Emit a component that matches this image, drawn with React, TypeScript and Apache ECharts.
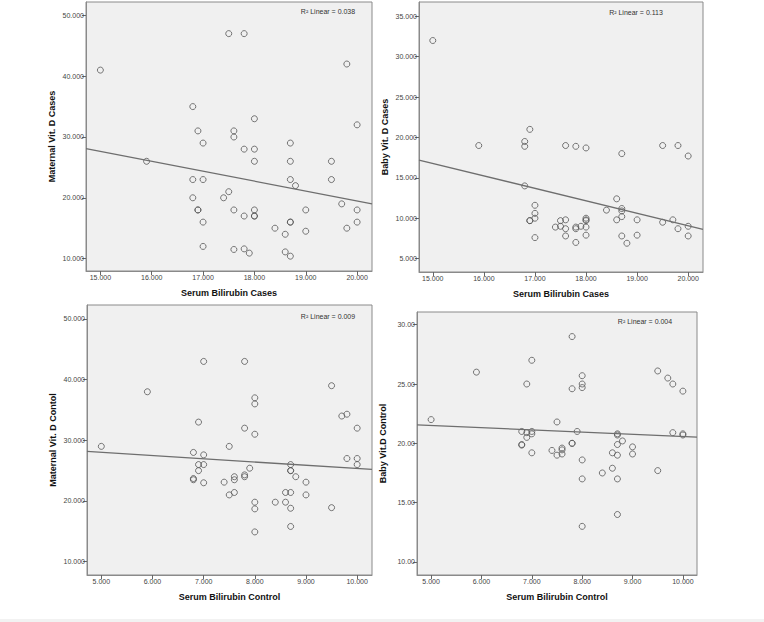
import React, { useEffect, useRef } from "react";
import * as echarts from "echarts";

// ---- Data ----
const maternalCases: [number, number][] = [
  [15, 41], [15.9, 26], [17.5, 47], [17.8, 47], [19.8, 42], [20, 32], [16.8, 35], [16.9, 31], [17, 29],
  [17.6, 31], [17.6, 30], [17.8, 28], [18, 33], [18, 28], [18, 26], [18.7, 29], [18.7, 26], [18.7, 23],
  [18.8, 22], [19.5, 26], [19.5, 23], [16.8, 23], [17, 23], [16.8, 20], [16.9, 18], [16.9, 18], [17, 16],
  [17, 12], [17.5, 21], [17.4, 20], [17.6, 18], [17.8, 17], [18, 18], [18, 17], [18, 17], [17.6, 11.5],
  [17.8, 11.6], [17.9, 10.9], [18.4, 15], [18.6, 14], [18.6, 11.1], [18.7, 10.4], [18.7, 16], [18.7, 16],
  [19, 18], [19, 14.5], [19.7, 19], [20, 18], [20, 16], [19.8, 15],
];
const babyCases: [number, number][] = [
  [15, 32], [15.9, 19], [16.8, 19.5], [16.8, 18.9], [16.9, 21], [16.8, 14], [16.9, 9.7], [16.9, 9.7],
  [17, 11.6], [17, 10.6], [17, 10], [17, 7.6], [17.4, 8.9], [17.5, 9.7], [17.5, 9], [17.6, 9.8], [17.6, 8.7],
  [17.6, 7.8], [17.6, 19], [17.8, 18.9], [17.8, 8.9], [17.8, 8.7], [17.8, 7], [17.9, 9], [18, 18.7], [18, 10],
  [18, 9.8], [18, 9.7], [18, 8.9], [18, 7.9], [18.4, 11], [18.6, 12.4], [18.6, 9.8], [18.7, 18], [18.7, 11.2],
  [18.7, 10.9], [18.7, 10.2], [18.7, 7.8], [18.8, 6.9], [19, 9.8], [19, 7.9], [19.5, 19], [19.5, 9.5],
  [19.7, 9.8], [19.8, 19], [19.8, 8.7], [20, 17.7], [20, 9], [20, 7.8],
];
const maternalControl: [number, number][] = [
  [5, 29], [5.9, 38], [7, 43], [7.8, 43], [6.9, 33], [6.8, 28], [6.9, 26], [7, 26], [7, 27.6], [6.9, 25],
  [6.8, 23.7], [6.8, 23.5], [7, 23], [7.4, 23.1], [7.5, 29], [7.5, 21], [7.6, 21.4], [7.6, 24], [7.6, 23.5],
  [7.8, 32], [7.8, 24.3], [7.8, 24], [7.9, 25.4], [8, 37], [8, 36], [8, 31], [8, 19.8], [8, 18.7], [8, 14.9],
  [8.4, 19.8], [8.6, 21.4], [8.6, 19.8], [8.7, 26], [8.7, 25], [8.7, 25], [8.7, 21.4], [8.7, 18.8],
  [8.7, 15.8], [8.8, 24], [9, 23.1], [9, 21], [9.5, 39], [9.5, 18.9], [9.7, 34], [9.8, 34.3], [9.8, 27],
  [10, 32], [10, 27], [10, 26],
];
const babyControl: [number, number][] = [
  [5, 22], [5.9, 26], [7, 27], [6.9, 25], [6.8, 21], [6.8, 19.9], [6.8, 19.85], [6.9, 20.9], [6.9, 20.5],
  [7, 21], [7, 20.8], [7, 19.2], [7.4, 19.4], [7.5, 21.8], [7.5, 19], [7.6, 19.6], [7.6, 19.45], [7.6, 19.1],
  [7.8, 29], [7.8, 24.6], [7.8, 20], [7.8, 20], [7.9, 21], [8, 25.7], [8, 25], [8, 24.7], [8, 18.6], [8, 17],
  [8, 13], [8.4, 17.5], [8.6, 19.2], [8.6, 17.9], [8.7, 20.8], [8.7, 20.7], [8.7, 19.9], [8.7, 19], [8.7, 17],
  [8.7, 14], [8.8, 20.2], [9, 19.7], [9, 19.1], [9.5, 26.1], [9.5, 17.7], [9.7, 25.5], [9.8, 25], [9.8, 20.9],
  [10, 24.4], [10, 20.8], [10, 20.7],
];

// Fit lines (end points)
const fitMaternalCases: [number, number][] = [[14.72, 28.1], [20.29, 19.0]];
const fitBabyCases: [number, number][] = [[14.73, 17.2], [20.29, 8.63]];
const fitMaternalControl: [number, number][] = [[4.72, 28.16], [10.29, 25.2]];
const fitBabyControl: [number, number][] = [[4.72, 21.56], [10.28, 20.52]];

const r2Labels = ["R\u00B2 Linear = 0.038", "R\u00B2 Linear = 0.113", "R\u00B2 Linear = 0.009", "R\u00B2 Linear = 0.004"];
const xTitles = ["Serum Bilirubin Cases", "Serum Bilirubin Cases", "Serum Bilirubin Control", "Serum Bilirubin Control"];
const yTitles = ["Maternal Vit. D Cases", "Baby Vit. D Cases", "Maternal Vit. D Contol", "Baby Vit.D Control"];
const xTicksCases = [15, 16, 17, 18, 19, 20];
const xTicksControl = [5, 6, 7, 8, 9, 10];
const yTicksMaternal = [10, 20, 30, 40, 50];
const yTicksBabyCases = [5, 10, 15, 20, 25, 30, 35];
const yTicksBabyControl = [10, 15, 20, 25, 30];

const FONT = "'Liberation Sans', Arial, sans-serif";

export default function App() {
  const ref = useRef<HTMLDivElement>(null);
  useEffect(() => {
    if (!ref.current) return;
    const chart = echarts.init(ref.current, undefined, { renderer: "svg" });

    const grids = [
      { left: 86, top: 2, width: 286, height: 269 },
      { left: 419, top: 2, width: 284, height: 270 },
      { left: 87, top: 305, width: 285, height: 270 },
      { left: 417, top: 312, width: 280, height: 263 },
    ];
    const xRanges = [[14.72, 20.29], [14.73, 20.29], [4.72, 10.29], [4.72, 10.28]];
    const yRanges = [[7.96, 52.2], [3.34, 36.77], [7.8, 52.3], [8.9, 31.07]];
    const xTicks = [xTicksCases, xTicksCases, xTicksControl, xTicksControl];
    const yTicks = [yTicksMaternal, yTicksBabyCases, yTicksMaternal, yTicksBabyControl];
    const yDec = [3, 3, 3, 2];
    const points = [maternalCases, babyCases, maternalControl, babyControl];
    const fits = [fitMaternalCases, fitBabyCases, fitMaternalControl, fitBabyControl];
    const r2Pos = [[328, 11], [636, 12], [328, 316], [645, 321]];

    const axisCommon = {
      axisLine: { show: true, onZero: false, lineStyle: { color: "#8a8a8a", width: 1 } },
      splitLine: { show: false },
    };

    const xAxis = grids.map((_, i) => ({
      type: "value",
      gridIndex: i,
      min: xRanges[i][0],
      max: xRanges[i][1],
      ...axisCommon,
      axisTick: { show: true, customValues: xTicks[i], length: 4, lineStyle: { color: "#666" } },
      axisLabel: {
        customValues: xTicks[i],
        formatter: (v: number) => v.toFixed(3),
        fontSize: 7,
        color: "#444",
        margin: 3,
        fontFamily: FONT,
      },
      name: xTitles[i],
      nameLocation: "middle",
      nameGap: 17,
      nameTextStyle: { fontSize: 9, fontWeight: "bold", color: "#111", fontFamily: FONT },
    }));
    const yAxis = grids.map((_, i) => ({
      type: "value",
      gridIndex: i,
      min: yRanges[i][0],
      max: yRanges[i][1],
      ...axisCommon,
      axisTick: { show: true, customValues: yTicks[i], length: 4, lineStyle: { color: "#666" } },
      axisLabel: {
        customValues: yTicks[i],
        formatter: (v: number) => v.toFixed(yDec[i]),
        fontSize: 7,
        color: "#444",
        margin: 2,
        fontFamily: FONT,
      },
      name: yTitles[i],
      nameLocation: "middle",
      nameGap: 30,
      nameTextStyle: { fontSize: 9, fontWeight: "bold", color: "#111", fontFamily: FONT },
    }));

    const series: any[] = [];
    points.forEach((pts, i) => {
      series.push({
        type: "scatter",
        xAxisIndex: i,
        yAxisIndex: i,
        data: pts,
        symbol: "circle",
        symbolSize: 6,
        itemStyle: { color: "rgba(0,0,0,0)", borderColor: "#555", borderWidth: 1 },
        silent: true,
      });
      series.push({
        type: "line",
        xAxisIndex: i,
        yAxisIndex: i,
        data: fits[i],
        symbol: "none",
        lineStyle: { color: "#6e6e6e", width: 1.3 },
        silent: true,
      });
    });

    chart.setOption({
      animation: false,
      backgroundColor: "#ffffff",
      grid: grids.map((g) => ({
        ...g,
        show: true,
        backgroundColor: "#f0f0f0",
        borderColor: "#8a8a8a",
        borderWidth: 1,
        containLabel: false,
      })),
      xAxis,
      yAxis,
      series,
      graphic: [
        ...r2Labels.map((t, i) => ({
          type: "text",
          x: r2Pos[i][0],
          y: r2Pos[i][1],
          style: {
            text: t,
            fontSize: 7,
            fill: "#333",
            fontFamily: FONT,
            textAlign: "center",
            textVerticalAlign: "middle",
          },
          z: 10,
        })),
        {
          type: "rect",
          shape: { x: 0, y: 619, width: 764, height: 3 },
          style: { fill: "#f2f2f2" },
          z: -1,
        },
      ],
    });
    return () => chart.dispose();
  }, []);
  return (
    <div
      ref={ref}
      style={{ position: "absolute", left: 0, top: 0, width: 764, height: 622 }}
    />
  );
}
